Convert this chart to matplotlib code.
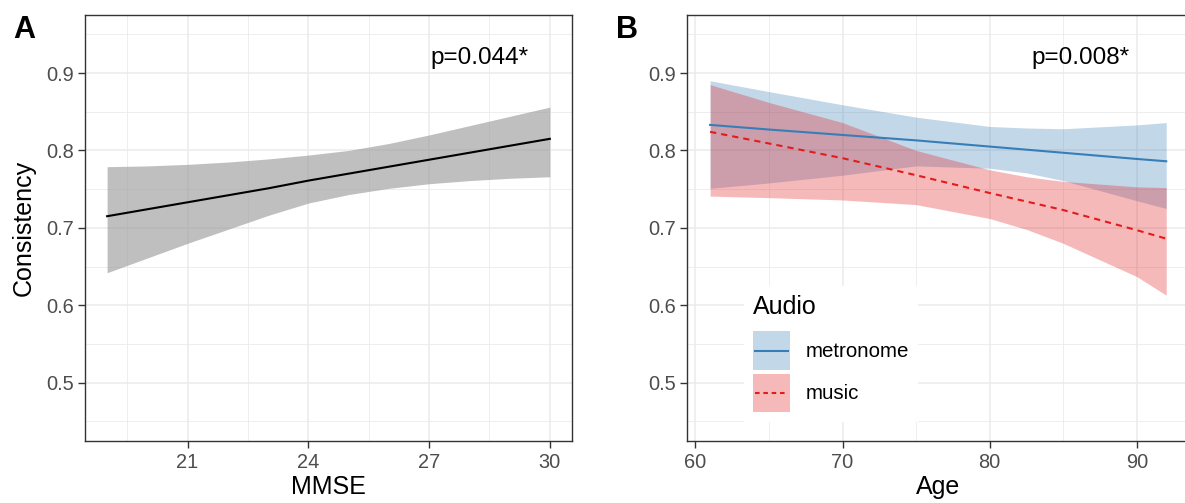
import numpy as np
import matplotlib
matplotlib.use("Agg")
import matplotlib.pyplot as plt
from matplotlib.patches import Patch, Rectangle
from matplotlib.lines import Line2D

plt.rcParams["font.family"] = ["Liberation Sans", "DejaVu Sans"]

# --- Panel A: consistency vs MMSE (linear fit with 95% CI) ---
mmse = [19, 20, 21, 22, 23, 24, 25, 26, 27, 28, 29, 30]
mmse_fit = [0.715, 0.724, 0.733, 0.742, 0.751, 0.761, 0.770, 0.779, 0.788, 0.797, 0.806, 0.815]
mmse_lo = [0.642, 0.661, 0.680, 0.698, 0.716, 0.732, 0.743, 0.751, 0.757, 0.761, 0.764, 0.766]
mmse_hi = [0.779, 0.780, 0.782, 0.785, 0.789, 0.794, 0.800, 0.809, 0.820, 0.832, 0.844, 0.856]
p_mmse = "p=0.044*"

# --- Panel B: consistency vs age, split by audio condition ---
age = [61, 65, 70, 75, 80, 82.5, 85, 90, 92]
metro_fit = [0.833, 0.827, 0.820, 0.813, 0.805, 0.801, 0.797, 0.789, 0.786]
metro_lo = [0.751, 0.758, 0.768, 0.780, 0.777, 0.771, 0.761, 0.735, 0.725]
metro_hi = [0.890, 0.876, 0.859, 0.843, 0.831, 0.829, 0.828, 0.833, 0.836]
music_fit = [0.824, 0.809, 0.790, 0.768, 0.745, 0.734, 0.723, 0.697, 0.686]
music_lo = [0.741, 0.739, 0.736, 0.730, 0.712, 0.698, 0.680, 0.637, 0.613]
music_hi = [0.885, 0.862, 0.836, 0.800, 0.775, 0.766, 0.760, 0.753, 0.752]
p_age = "p=0.008*"

BLUE = "#377EB8"
RED = "#E41A1C"
GRID = "#EBEBEB"
DARK = "#333333"


class RibbonKey:
    """Legend key: filled square with the fit line drawn across it."""

    def legend_artist(self, legend, orig_handle, fontsize, handlebox):
        fill, line = orig_handle
        x0, y0 = -handlebox.xdescent, -handlebox.ydescent
        w, h = handlebox.width, handlebox.height
        rect = Rectangle((x0, y0), w, h, facecolor=fill.get_facecolor(),
                         edgecolor="none", transform=handlebox.get_transform())
        pad = 0.1 * fontsize
        ln = Line2D([x0 + pad, x0 + w - pad], [y0 + h / 2, y0 + h / 2],
                    color=line.get_color(), linewidth=line.get_linewidth(),
                    linestyle=line.get_linestyle(), transform=handlebox.get_transform())
        ln.set_dashes(getattr(line, "_key_dashes", None) or (None, None))
        handlebox.add_artist(rect)
        handlebox.add_artist(ln)
        return rect


def style_axes(ax, xmin, xmax, xmajor, xminor):
    ax.set_xlim(xmin, xmax)
    ax.set_ylim(0.425, 0.975)
    ax.set_xticks(xmajor)
    ax.set_xticks(xminor, minor=True)
    ax.set_yticks([0.5, 0.6, 0.7, 0.8, 0.9])
    ax.set_yticks([0.45, 0.55, 0.65, 0.75, 0.85, 0.95], minor=True)
    ax.set_axisbelow(True)
    ax.grid(which="major", color=GRID, linewidth=1.1)
    ax.grid(which="minor", color=GRID, linewidth=0.6)
    for s in ax.spines.values():
        s.set_color(DARK)
        s.set_linewidth(1.0)
    ax.tick_params(which="major", length=4.8, width=1.0, color=DARK,
                   labelcolor="#4D4D4D", labelsize=14.4)
    ax.tick_params(axis="x", pad=3.8)
    ax.tick_params(axis="y", pad=3.0)
    ax.tick_params(which="minor", length=0)


fig = plt.figure(figsize=(11.85, 5.03), dpi=100)
axA = fig.add_axes([0.0717, 0.1239, 0.4110, 0.8463])
axB = fig.add_axes([0.5800, 0.1239, 0.4234, 0.8463])

# Panel A
axA.fill_between(mmse, mmse_lo, mmse_hi, color="#999999", alpha=0.62, linewidth=0)
axA.plot(mmse, mmse_fit, color="black", linewidth=1.5)
style_axes(axA, 18.45, 30.55, [21, 24, 27, 30], [19.5, 22.5, 25.5, 28.5])
axA.set_xlabel("MMSE", fontsize=18, labelpad=2.5)
axA.set_ylabel("Consistency", fontsize=18, labelpad=8)
axA.text(28.26, 0.9116, p_mmse, fontsize=17.5, ha="center", va="baseline")

# Panel B
axB.fill_between(age, metro_lo, metro_hi, color=BLUE, alpha=0.3, linewidth=0)
axB.plot(age, metro_fit, color=BLUE, linewidth=1.5)
axB.fill_between(age, music_lo, music_hi, color=RED, alpha=0.3, linewidth=0)
axB.plot(age, music_fit, color=RED, linewidth=1.5, dashes=(3, 2.4))
style_axes(axB, 59.45, 93.55, [60, 70, 80, 90], [65, 75, 85])
axB.set_xlabel("Age", fontsize=18, labelpad=2.5)
axB.text(86.15, 0.9116, p_age, fontsize=17.5, ha="center", va="baseline")

metro_line = Line2D([], [], color=BLUE, linewidth=1.5)
music_line = Line2D([], [], color=RED, linewidth=1.5)
music_line._key_dashes = (2.2, 1.8)
handles = [
    (Patch(facecolor=BLUE, alpha=0.3), metro_line),
    (Patch(facecolor=RED, alpha=0.3), music_line),
]
leg = axB.legend(handles, ["metronome", "music"], title="Audio",
                 handler_map={tuple: RibbonKey()},
                 loc="lower left", bbox_to_anchor=(0.1124, 0.0446), borderaxespad=0,
                 fontsize=14.8, title_fontsize=18, alignment="left",
                 handlelength=1.8, handleheight=2.5, handletextpad=0.75,
                 labelspacing=0.2, borderpad=0.45, frameon=True, fancybox=False,
                 framealpha=1, edgecolor="none", facecolor="white")
leg._legend_box.sep = 9

fig.text(13 / 1185, 1 - 15 / 503, "A", fontsize=22, fontweight="bold", va="top", ha="left")
fig.text(616 / 1185, 1 - 15 / 503, "B", fontsize=22, fontweight="bold", va="top", ha="left")

fig.savefig("out.png", dpi=100)
